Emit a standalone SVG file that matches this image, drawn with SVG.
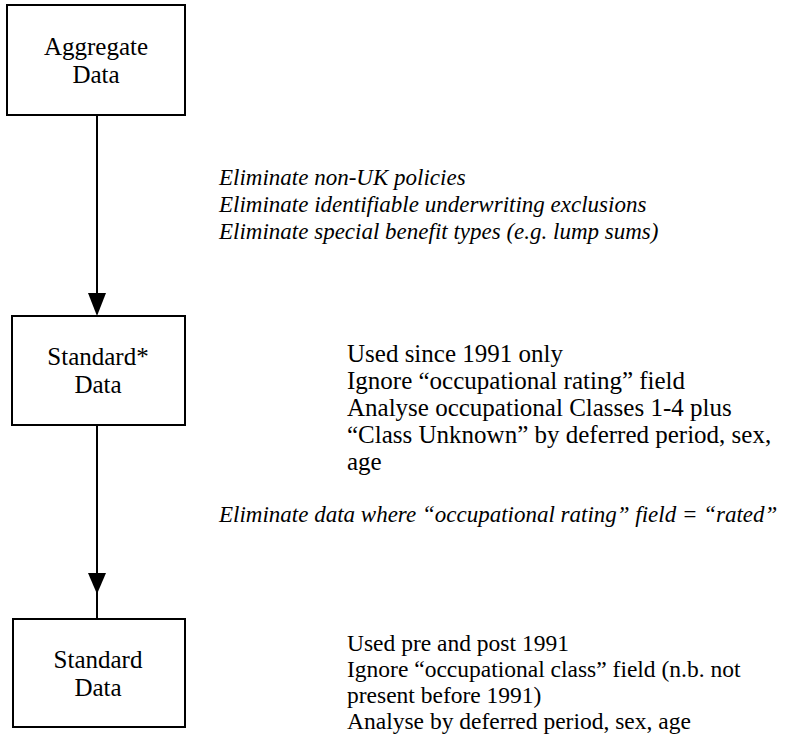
<svg xmlns="http://www.w3.org/2000/svg" width="804" height="734" viewBox="0 0 804 734">
<style>
.box{fill:#fff;stroke:#000;stroke-width:2}
.t{font-family:'Liberation Serif','Times New Roman',serif;font-size:25px;fill:#000}
.c{text-anchor:middle}
.i{font-style:italic;font-size:23px}
.s{font-size:23.5px}
.ln{stroke:#000;stroke-width:2;fill:none}
</style>
<rect width="804" height="734" fill="#fff"/>
<g id="connectors">
<line class="ln" x1="97" y1="115" x2="97" y2="300"/>
<polygon points="88,293 106,293 97,316" fill="#000"/>
<line class="ln" x1="97" y1="425" x2="97" y2="619"/>
<polygon points="88,573 106,573 97,594" fill="#000"/>
</g>
<g id="aggregate">
<rect class="box" x="7" y="5" width="178" height="110"/>
<text class="t c" x="96" y="55">Aggregate</text>
<text class="t c" x="96" y="83">Data</text>
</g>
<g id="standard-star">
<rect class="box" x="12" y="316" width="173" height="109"/>
<text class="t c" x="98" y="365">Standard*</text>
<text class="t c" x="98" y="393">Data</text>
</g>
<g id="standard">
<rect class="box" x="13" y="619" width="172" height="108"/>
<text class="t c" x="98" y="668">Standard</text>
<text class="t c" x="98" y="696">Data</text>
</g>
<g id="labels">
<text class="t i" x="219" y="185">Eliminate non-UK policies</text>
<text class="t i" x="219" y="212">Eliminate identifiable underwriting exclusions</text>
<text class="t i" x="219" y="239">Eliminate special benefit types (e.g. lump sums)</text>
<text class="t" x="347" y="362">Used since 1991 only</text>
<text class="t" x="347" y="389">Ignore “occupational rating” field</text>
<text class="t" x="347" y="416">Analyse occupational Classes 1-4 plus</text>
<text class="t" x="347" y="443">“Class Unknown” by deferred period, sex,</text>
<text class="t" x="347" y="470">age</text>
<text class="t i" x="219" y="522">Eliminate data where “occupational rating” field = “rated”</text>
<text class="t s" x="347" y="650.5">Used pre and post 1991</text>
<text class="t s" x="347" y="676.5">Ignore “occupational class” field (n.b. not</text>
<text class="t s" x="347" y="702.5">present before 1991)</text>
<text class="t s" x="347" y="728.5">Analyse by deferred period, sex, age</text>
</g>
</svg>
